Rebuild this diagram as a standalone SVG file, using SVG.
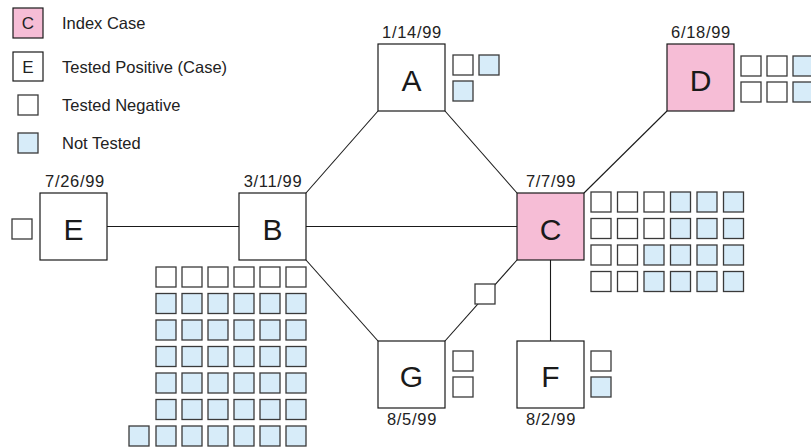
<svg xmlns="http://www.w3.org/2000/svg" width="811" height="447" viewBox="0 0 811 447">
<defs>
<style>
.bg{fill:#ffffff}
.node{fill:#ffffff;stroke:#1a1a1a;stroke-width:1.2}
.idx{fill:#f6bdd6;stroke:#1a1a1a;stroke-width:1.2}
.neg{fill:#ffffff;stroke:#3a3a3a;stroke-width:1.3}
.nt{fill:#d7ecf9;stroke:#3a3a3a;stroke-width:1.3}
.edge{stroke:#1a1a1a;stroke-width:1.1;fill:none}
.big{font-family:"Liberation Sans",Arial,sans-serif;font-size:30px;fill:#1a1a1a;text-anchor:middle}
.date{font-family:"Liberation Sans",Arial,sans-serif;font-size:16.5px;fill:#222;text-anchor:middle;letter-spacing:0.7px}
.leg{font-family:"Liberation Sans",Arial,sans-serif;font-size:16.5px;fill:#222}
.legl{font-family:"Liberation Sans",Arial,sans-serif;font-size:17px;fill:#222;text-anchor:middle}
</style>
</defs>
<rect class="bg" x="0" y="0" width="811" height="447"/>

<g id="legend">
  <rect class="idx" x="13" y="8" width="30" height="30"/>
  <text class="legl" x="28" y="29">C</text>
  <text class="leg" x="62" y="29">Index Case</text>
  <rect class="node" x="13" y="52" width="30" height="29"/>
  <text class="legl" x="28" y="72.5">E</text>
  <text class="leg" x="62" y="72.5">Tested Positive (Case)</text>
  <rect class="neg" x="18" y="95" width="20" height="20"/>
  <text class="leg" x="62" y="111">Tested Negative</text>
  <rect class="nt" x="18" y="133" width="20" height="20"/>
  <text class="leg" x="62" y="149">Not Tested</text>
</g>

<g id="connectors">
  <line class="edge" x1="107" y1="226.5" x2="239" y2="226.5"/>
  <line class="edge" x1="306" y1="226.5" x2="517" y2="226.5"/>
  <line class="edge" x1="306" y1="193" x2="378" y2="111"/>
  <line class="edge" x1="445" y1="111" x2="517" y2="193"/>
  <line class="edge" x1="584" y1="193" x2="667" y2="111"/>
  <line class="edge" x1="306" y1="260" x2="378" y2="341"/>
  <line class="edge" x1="517" y1="260" x2="445" y2="341"/>
  <line class="edge" x1="550.5" y1="260" x2="550.5" y2="341"/>
  <rect class="neg" x="475" y="284" width="20" height="20"/>
</g>

<g id="node-A">
  <rect class="node" x="378" y="44" width="67" height="67"/>
  <text class="big" x="411.5" y="91">A</text>
  <text class="date" x="412" y="38">1/14/99</text>
  <rect class="neg" x="453" y="55" width="20" height="20"/>
  <rect class="nt" x="479" y="55" width="20" height="20"/>
  <rect class="nt" x="453" y="81" width="20" height="20"/>
</g>

<g id="node-D">
  <rect class="idx" x="667" y="44" width="67" height="67"/>
  <text class="big" x="700.5" y="91">D</text>
  <text class="date" x="701" y="38">6/18/99</text>
  <rect class="neg" x="741" y="56" width="20" height="20"/>
  <rect class="neg" x="767" y="56" width="20" height="20"/>
  <rect class="nt" x="793" y="56" width="20" height="20"/>
  <rect class="neg" x="741" y="82" width="20" height="20"/>
  <rect class="neg" x="767" y="82" width="20" height="20"/>
  <rect class="nt" x="793" y="82" width="20" height="20"/>
</g>

<g id="node-E">
  <rect class="node" x="40" y="193" width="67" height="67"/>
  <text class="big" x="73.5" y="240">E</text>
  <text class="date" x="75" y="186.5">7/26/99</text>
  <rect class="neg" x="12" y="219" width="20" height="20"/>
</g>

<g id="node-B">
  <rect class="node" x="239" y="193" width="67" height="67"/>
  <text class="big" x="272.5" y="240">B</text>
  <text class="date" x="273" y="186.5">3/11/99</text>
  <g id="B-contacts">
    <rect class="neg" x="156" y="267" width="20" height="20"/>
    <rect class="neg" x="182" y="267" width="20" height="20"/>
    <rect class="neg" x="208" y="267" width="20" height="20"/>
    <rect class="neg" x="234" y="267" width="20" height="20"/>
    <rect class="neg" x="260" y="267" width="20" height="20"/>
    <rect class="neg" x="286" y="267" width="20" height="20"/>
    <rect class="nt" x="156" y="293.5" width="20" height="20"/>
    <rect class="nt" x="182" y="293.5" width="20" height="20"/>
    <rect class="nt" x="208" y="293.5" width="20" height="20"/>
    <rect class="nt" x="234" y="293.5" width="20" height="20"/>
    <rect class="nt" x="260" y="293.5" width="20" height="20"/>
    <rect class="nt" x="286" y="293.5" width="20" height="20"/>
    <rect class="nt" x="156" y="320" width="20" height="20"/>
    <rect class="nt" x="182" y="320" width="20" height="20"/>
    <rect class="nt" x="208" y="320" width="20" height="20"/>
    <rect class="nt" x="234" y="320" width="20" height="20"/>
    <rect class="nt" x="260" y="320" width="20" height="20"/>
    <rect class="nt" x="286" y="320" width="20" height="20"/>
    <rect class="nt" x="156" y="346.5" width="20" height="20"/>
    <rect class="nt" x="182" y="346.5" width="20" height="20"/>
    <rect class="nt" x="208" y="346.5" width="20" height="20"/>
    <rect class="nt" x="234" y="346.5" width="20" height="20"/>
    <rect class="nt" x="260" y="346.5" width="20" height="20"/>
    <rect class="nt" x="286" y="346.5" width="20" height="20"/>
    <rect class="nt" x="156" y="373" width="20" height="20"/>
    <rect class="nt" x="182" y="373" width="20" height="20"/>
    <rect class="nt" x="208" y="373" width="20" height="20"/>
    <rect class="nt" x="234" y="373" width="20" height="20"/>
    <rect class="nt" x="260" y="373" width="20" height="20"/>
    <rect class="nt" x="286" y="373" width="20" height="20"/>
    <rect class="nt" x="156" y="399.5" width="20" height="20"/>
    <rect class="nt" x="182" y="399.5" width="20" height="20"/>
    <rect class="nt" x="208" y="399.5" width="20" height="20"/>
    <rect class="nt" x="234" y="399.5" width="20" height="20"/>
    <rect class="nt" x="260" y="399.5" width="20" height="20"/>
    <rect class="nt" x="286" y="399.5" width="20" height="20"/>
    <rect class="nt" x="129" y="426" width="20" height="20"/>
    <rect class="nt" x="156" y="426" width="20" height="20"/>
    <rect class="nt" x="182" y="426" width="20" height="20"/>
    <rect class="nt" x="208" y="426" width="20" height="20"/>
    <rect class="nt" x="234" y="426" width="20" height="20"/>
    <rect class="nt" x="260" y="426" width="20" height="20"/>
    <rect class="nt" x="286" y="426" width="20" height="20"/>
  </g>
</g>

<g id="node-C">
  <rect class="idx" x="517" y="193" width="67" height="67"/>
  <text class="big" x="550.5" y="240">C</text>
  <text class="date" x="551" y="186.5">7/7/99</text>
  <g id="C-contacts">
    <rect class="neg" x="591" y="192" width="20" height="20"/>
    <rect class="neg" x="617.5" y="192" width="20" height="20"/>
    <rect class="neg" x="644" y="192" width="20" height="20"/>
    <rect class="nt" x="670.5" y="192" width="20" height="20"/>
    <rect class="nt" x="697" y="192" width="20" height="20"/>
    <rect class="nt" x="723.5" y="192" width="20" height="20"/>
    <rect class="neg" x="591" y="218.5" width="20" height="20"/>
    <rect class="neg" x="617.5" y="218.5" width="20" height="20"/>
    <rect class="neg" x="644" y="218.5" width="20" height="20"/>
    <rect class="nt" x="670.5" y="218.5" width="20" height="20"/>
    <rect class="nt" x="697" y="218.5" width="20" height="20"/>
    <rect class="nt" x="723.5" y="218.5" width="20" height="20"/>
    <rect class="neg" x="591" y="245" width="20" height="20"/>
    <rect class="neg" x="617.5" y="245" width="20" height="20"/>
    <rect class="nt" x="644" y="245" width="20" height="20"/>
    <rect class="nt" x="670.5" y="245" width="20" height="20"/>
    <rect class="nt" x="697" y="245" width="20" height="20"/>
    <rect class="nt" x="723.5" y="245" width="20" height="20"/>
    <rect class="neg" x="591" y="271.5" width="20" height="20"/>
    <rect class="neg" x="617.5" y="271.5" width="20" height="20"/>
    <rect class="nt" x="644" y="271.5" width="20" height="20"/>
    <rect class="nt" x="670.5" y="271.5" width="20" height="20"/>
    <rect class="nt" x="697" y="271.5" width="20" height="20"/>
    <rect class="nt" x="723.5" y="271.5" width="20" height="20"/>
  </g>
</g>

<g id="node-G">
  <rect class="node" x="378" y="341" width="67" height="67"/>
  <text class="big" x="411.5" y="387">G</text>
  <text class="date" x="412" y="425">8/5/99</text>
  <rect class="neg" x="453" y="351" width="20" height="20"/>
  <rect class="neg" x="453" y="377" width="20" height="20"/>
</g>

<g id="node-F">
  <rect class="node" x="517" y="341" width="67" height="67"/>
  <text class="big" x="550.5" y="387">F</text>
  <text class="date" x="551" y="425">8/2/99</text>
  <rect class="neg" x="591" y="351" width="20" height="20"/>
  <rect class="nt" x="591" y="377" width="20" height="20"/>
</g>
</svg>
